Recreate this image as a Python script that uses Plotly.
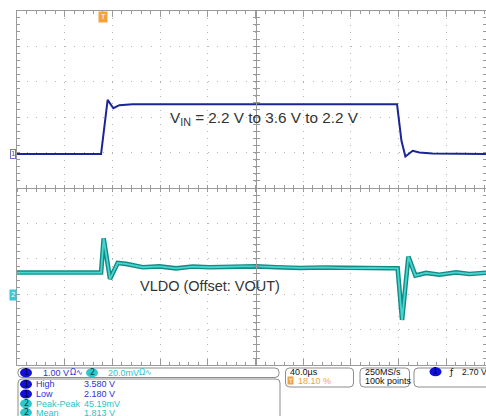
import numpy as np
import plotly.graph_objects as go

W, H = 486, 416

# ---------------- data ----------------
# Channel 1 : VIN in volts, time in microseconds relative to trigger
ch1_time_us = [-72.4, -1.9, 3.6, 8.4, 13.4, 24.6, 246.3, 250.0, 253.3, 259.4, 265.0, 276.0, 321.0]
ch1_volts = [2.18, 2.18, 3.705, 3.47, 3.555, 3.58, 3.58, 2.55, 2.106, 2.27, 2.22, 2.19, 2.18]

# Channel 2 : VLDO AC deviation in millivolts
ch2_time_us = [-72.4, -1.9, 0.25, 5.6, 12.0, 19.0, 33, 47, 61, 75, 89, 103, 117, 128,
               145, 165, 185, 205, 225, 240, 246.8, 250.5, 255.8, 261.7, 270.6, 281.8,
               295.8, 307, 321]
ch2_mv = [0.0, 0.0, 19.3, -3.6, 5.4, 4.9, 3.0, 3.5, 2.4, 3.4, 3.0, 3.4, 3.5, 3.5,
          3.0, 2.6, 2.9, 2.5, 2.7, 2.4, 2.4, -26.7, 9.0, -1.7, -0.2, -1.2,
          0.1, -0.8, -0.1]

# scope settings
t_left_us = -72.4
t_per_div_us = 40.0
ch1_v_bottom = -3.78
ch1_v_per_div = 1.0
ch2_mv_bottom = -52.3
ch2_mv_per_div = 20.0
n_div = 10

# info panel labels
ch1_scale_label = "1.00 V"
ch2_scale_label = "20.0mV"
coupling_label = "Ω∿"
meas_names = ["High", "Low", "Peak-Peak", "Mean"]
meas_values = ["3.580 V", "2.180 V", "45.19mV", "1.813 V"]
meas_channels = [1, 1, 2, 2]
timebase_label = "40.0µs"
trigger_pos_label = "18.10 %"
sample_rate_label = "250MS/s"
record_label = "100k points"
trigger_level_label = "2.70 V"
vin_label = "V<sub>IN</sub> = 2.2 V to 3.6 V to 2.2 V"
vldo_label = "VLDO (Offset: VOUT)"

# ---------------- geometry (pixels) ----------------
grid_left = 17.0
grid_top = 10.7
px_xdiv = 47.7
px_ydiv = 35.46

def PX(x):
    return x / W

def PY(y):
    return 1 - y / H

x_dom = [PX(grid_left), 1.0]
y_dom = [PY(grid_top + n_div * px_ydiv), PY(grid_top)]
x_rng = [t_left_us, t_left_us + (W - grid_left) / px_xdiv * t_per_div_us]
y1_rng = [ch1_v_bottom, ch1_v_bottom + n_div * ch1_v_per_div]
y2_rng = [ch2_mv_bottom, ch2_mv_bottom + n_div * ch2_mv_per_div]

GRID = "#b4b4b4"
AXC = "#9a9a9a"
BLUE_TR = "#1b2596"
TEAL_DK = "#168a82"
TEAL_LT = "#45d6d2"
BLUE_TXT = "#2f2fd8"
BLUE_PILL = "#1010d8"
CYAN_TXT = "#27c4c8"
CYAN_PILL = "#2cc8cc"
ORANGE = "#f2a33a"
FONT = "Liberation Sans"

fig = go.Figure()
fig.add_trace(go.Scatter(x=ch2_time_us, y=ch2_mv, xaxis="x", yaxis="y2", mode="lines",
                         line=dict(color=TEAL_DK, width=4.6), hoverinfo="skip"))
fig.add_trace(go.Scatter(x=ch2_time_us, y=ch2_mv, xaxis="x", yaxis="y2", mode="lines",
                         line=dict(color=TEAL_LT, width=1.8), hoverinfo="skip"))
fig.add_trace(go.Scatter(x=ch1_time_us, y=ch1_volts, xaxis="x", yaxis="y", mode="lines",
                         line=dict(color=BLUE_TR, width=2), hoverinfo="skip"))

x_center_pos = PY(grid_top + n_div / 2 * px_ydiv)
y_center_pos = PX(grid_left + n_div / 2 * px_xdiv)

common_x = dict(range=x_rng, domain=x_dom, showticklabels=False, zeroline=False,
                fixedrange=True)
common_y = dict(range=y1_rng, domain=y_dom, showticklabels=False, zeroline=False,
                fixedrange=True)

fig.update_layout(
    width=W, height=H, autosize=False,
    margin=dict(l=0, r=0, t=0, b=0, pad=0),
    paper_bgcolor="white", plot_bgcolor="white",
    showlegend=False,
    xaxis=dict(**common_x, showgrid=True, gridcolor=GRID, gridwidth=1,
               griddash="1px,6.09px", tick0=t_left_us, dtick=t_per_div_us,
               showline=True, linecolor=AXC, linewidth=1, mirror="ticks",
               ticks="inside", ticklen=6, tickcolor=AXC,
               minor=dict(ticks="inside", ticklen=3, tickcolor=AXC,
                          tick0=t_left_us, dtick=t_per_div_us / 5, showgrid=False)),
    yaxis=dict(**common_y, showgrid=True, gridcolor=GRID, gridwidth=1,
               griddash="1px,8.54px", tick0=ch1_v_bottom, dtick=ch1_v_per_div,
               showline=True, linecolor=AXC, linewidth=1, mirror="ticks",
               ticks="inside", ticklen=3, tickcolor=AXC,
               minor=dict(ticks="inside", ticklen=3, tickcolor=AXC,
                          tick0=ch1_v_bottom, dtick=ch1_v_per_div / 5, showgrid=False)),
    yaxis2=dict(range=y2_rng, domain=y_dom, overlaying="y", anchor="x",
                showgrid=False, showticklabels=False, zeroline=False, showline=False,
                ticks="", fixedrange=True),
    xaxis2=dict(**common_x, overlaying="x", anchor="free", position=x_center_pos,
                showgrid=False, showline=True, linecolor=AXC, linewidth=1,
                ticks="inside", ticklen=3, tickcolor=AXC, tick0=t_left_us,
                dtick=t_per_div_us / 5),
    xaxis3=dict(**common_x, overlaying="x", anchor="free", position=x_center_pos,
                showgrid=False, showline=False,
                ticks="outside", ticklen=3, tickcolor=AXC, tick0=t_left_us,
                dtick=t_per_div_us / 5),
    yaxis3=dict(**common_y, overlaying="y", anchor="free", position=y_center_pos,
                showgrid=False, showline=True, linecolor=AXC, linewidth=1,
                ticks="inside", ticklen=3, tickcolor=AXC, tick0=ch1_v_bottom,
                dtick=ch1_v_per_div / 5),
    yaxis4=dict(**common_y, overlaying="y", anchor="free", position=y_center_pos,
                showgrid=False, showline=False,
                ticks="outside", ticklen=3, tickcolor=AXC, tick0=ch1_v_bottom,
                dtick=ch1_v_per_div / 5),
)
# invisible traces so the overlay (centre-line) axes are drawn
for xa, ya in [("x2", "y"), ("x3", "y"), ("x", "y3"), ("x", "y4")]:
    fig.add_trace(go.Scatter(x=[None], y=[None], xaxis=xa, yaxis=ya, mode="lines",
                             hoverinfo="skip", showlegend=False))

shapes = []
annots = []


def rrect(x0, y0, x1, y1, r=4, color="#8c8c8c"):
    rx, ry = r / W, r / H
    X0, X1, Y0, Y1 = PX(x0), PX(x1), PY(y0), PY(y1)
    path = (f"M {X0+rx},{Y0} L {X1-rx},{Y0} Q {X1},{Y0} {X1},{Y0-ry} "
            f"L {X1},{Y1+ry} Q {X1},{Y1} {X1-rx},{Y1} L {X0+rx},{Y1} "
            f"Q {X0},{Y1} {X0},{Y1+ry} L {X0},{Y0-ry} Q {X0},{Y0} {X0+rx},{Y0} Z")
    shapes.append(dict(type="path", xref="paper", yref="paper", path=path,
                       line=dict(color=color, width=1), fillcolor="rgba(0,0,0,0)"))


def txt(x, y, s, color, size=9, anchor="left", family=FONT, **kw):
    annots.append(dict(x=PX(x), y=PY(y), xref="paper", yref="paper", text=s,
                       showarrow=False, xanchor=anchor, yanchor="middle",
                       font=dict(family=family, size=size, color=color), **kw))


def pill(cx, cy, label, fill, tcolor, w=12, h=9):
    shapes.append(dict(type="circle", xref="paper", yref="paper",
                       x0=PX(cx - w / 2), x1=PX(cx + w / 2),
                       y0=PY(cy + h / 2), y1=PY(cy - h / 2),
                       fillcolor=fill, line=dict(width=0)))
    txt(cx, cy, label, tcolor, size=8, anchor="center", family="DejaVu Sans")


# ---- info boxes ----
rrect(18, 368, 279, 377.5)
rrect(18, 379, 280, 430)
rrect(285.5, 368, 353.5, 387)
rrect(360, 368, 409.5, 387)
rrect(414, 368, 495, 387)

row0 = 372.7
pill(26, row0, "1", BLUE_PILL, "#000040")
txt(41, row0, ch1_scale_label, BLUE_TXT)
txt(68, row0, coupling_label, BLUE_TXT, family="DejaVu Sans", size=8)
pill(92, row0, "2", CYAN_PILL, "#06383a")
txt(106, row0, ch2_scale_label, CYAN_TXT)
txt(137, row0, coupling_label, CYAN_TXT, family="DejaVu Sans", size=8)

row_y = [384.3, 394.0, 403.7, 412.6]
for name, val, ch, ry in zip(meas_names, meas_values, meas_channels, row_y):
    c_t = BLUE_TXT if ch == 1 else CYAN_TXT
    if ch == 1:
        pill(26, ry, str(ch), BLUE_PILL, "#000040")
    else:
        pill(26, ry, str(ch), CYAN_PILL, "#06383a")
    txt(34, ry, name, c_t)
    txt(82, ry, val, c_t)

txt(288, 371.8, timebase_label, "#111111")
shapes.append(dict(type="rect", xref="paper", yref="paper",
                   x0=PX(287.5), x1=PX(293.5), y0=PY(384.5), y1=PY(376.5),
                   fillcolor=ORANGE, line=dict(width=0)))
txt(290.5, 380.6, "T", "white", size=6, anchor="center", family="DejaVu Sans")
txt(296, 380.8, trigger_pos_label, ORANGE)
txt(362.5, 371.8, sample_rate_label, "#111111")
txt(362.5, 380.8, record_label, "#111111")
pill(435.5, 371.8, "1", BLUE_PILL, "#000040")
txt(447, 372, "ƒ", "#111111", family="DejaVu Sans", size=9)
txt(460, 371.8, trigger_level_label, "#111111", size=8.5)

# ---- channel / trigger markers ----
annots.append(dict(x=PX(13), y=ch1_volts[0], xref="paper", yref="y", text="1",
                   showarrow=False, xanchor="center", yanchor="middle",
                   font=dict(family="DejaVu Sans", size=7, color="#5050c8"),
                   bordercolor="#7070d0", borderwidth=1, borderpad=0, bgcolor="white"))
annots.append(dict(x=PX(13), y=PY(295), xref="paper", yref="paper", text="2",
                   showarrow=False, xanchor="center", yanchor="middle",
                   font=dict(family="DejaVu Sans", size=7, color="white"),
                   bgcolor="#3cc6d6", borderpad=1))
annots.append(dict(x=0, y=PY(17), xref="x", yref="paper", text="T", showarrow=False,
                   xanchor="center", yanchor="middle",
                   font=dict(family="DejaVu Sans", size=7, color="white"),
                   bgcolor=ORANGE, borderpad=1))

# ---- waveform labels ----
annots.append(dict(x=PX(168), y=PY(118), xref="paper", yref="paper", text=vin_label,
                   showarrow=False, xanchor="left", yanchor="middle",
                   font=dict(family=FONT, size=15.3, color="#333333")))
annots.append(dict(x=PX(138), y=PY(285.5), xref="paper", yref="paper", text=vldo_label,
                   showarrow=False, xanchor="left", yanchor="middle",
                   font=dict(family=FONT, size=14.5, color="#333333")))

fig.update_layout(shapes=shapes, annotations=annots)
fig.write_html("out.html", config={"displayModeBar": False, "staticPlot": True},
               post_script="document.body.style.margin='0';")
